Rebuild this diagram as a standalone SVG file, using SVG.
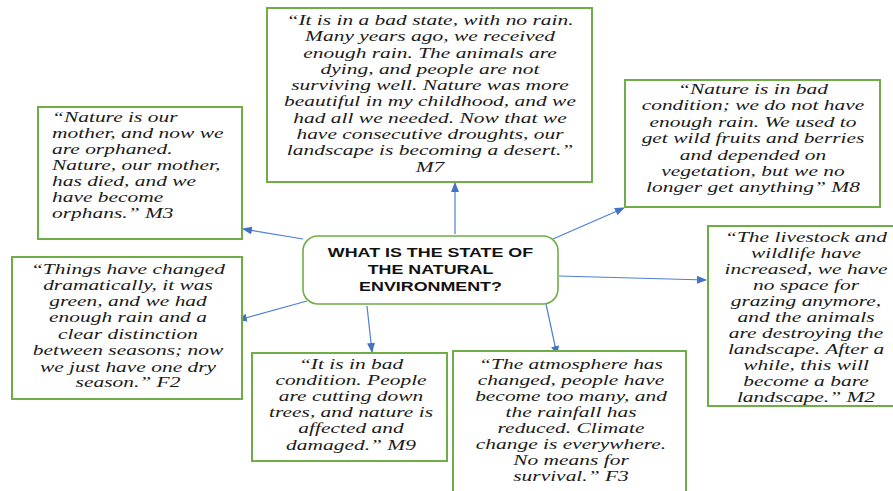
<svg xmlns="http://www.w3.org/2000/svg" width="893" height="491" viewBox="0 0 893 491">
<style>
.box{fill:#fff;stroke:#70AD47;stroke-width:2}
.hub{fill:#fff;stroke:#70AD47;stroke-width:1.6}
.q{font-family:"Liberation Serif","Times New Roman",serif;font-style:italic;font-size:15px;fill:#1a1a1a}
.c{text-anchor:middle}
.h{font-family:"Liberation Sans",Arial,sans-serif;font-weight:bold;font-size:12.5px;fill:#111;text-anchor:middle}
.ln{stroke:#4F7FD3;stroke-width:1.2;fill:none;marker-end:url(#ah)}
</style>
<defs>
<marker id="ah" markerUnits="userSpaceOnUse" markerWidth="10" markerHeight="8" refX="9" refY="4" orient="auto">
<path d="M0,0 L10,4 L0,8 Z" fill="#4472C4"/>
</marker>
</defs>
<rect width="893" height="491" fill="#fff"/>
<g id="connectors">
<line class="ln" x1="455" y1="234" x2="455" y2="183"/>
<line class="ln" x1="303" y1="239" x2="243" y2="229"/>
<line class="ln" x1="307" y1="301" x2="238" y2="320"/>
<line class="ln" x1="367" y1="306" x2="372" y2="352"/>
<line class="ln" x1="546" y1="304" x2="557" y2="355"/>
<line class="ln" x1="559" y1="276" x2="706" y2="280"/>
<line class="ln" x1="553" y1="239" x2="624" y2="208"/>
</g>
<g id="hub">
<rect class="hub" x="303" y="236" width="255" height="68" rx="15"/>
<text class="h" transform="translate(430.5 0) scale(1.43 1)"><tspan x="0" y="257.5">WHAT IS THE STATE OF</tspan><tspan x="0" y="274.5">THE NATURAL</tspan><tspan x="0" y="291.5">ENVIRONMENT?</tspan></text>
</g>
<g id="m7">
<rect class="box" x="267" y="8" width="325" height="174"/>
<text class="q c" transform="translate(430 0) scale(1.43 1)"><tspan x="0" y="25">“It is in a bad state, with no rain.</tspan><tspan x="0" y="41.3">Many years ago, we received</tspan><tspan x="0" y="57.6">enough rain. The animals are</tspan><tspan x="0" y="73.9">dying, and people are not</tspan><tspan x="0" y="90.2">surviving well. Nature was more</tspan><tspan x="0" y="106.5">beautiful in my childhood, and we</tspan><tspan x="0" y="122.8">had all we needed. Now that we</tspan><tspan x="0" y="139.1">have consecutive droughts, our</tspan><tspan x="0" y="155.4">landscape is becoming a desert.”</tspan><tspan x="0" y="171.7">M7</tspan></text>
</g>
<g id="m3">
<rect class="box" x="38" y="107" width="204" height="132"/>
<text class="q" transform="translate(52 0) scale(1.43 1)"><tspan x="0" y="122">“Nature is our</tspan><tspan x="0" y="138">mother, and now we</tspan><tspan x="0" y="154.5">are orphaned.</tspan><tspan x="0" y="170.5">Nature, our mother,</tspan><tspan x="0" y="186.5">has died, and we</tspan><tspan x="0" y="202">have become</tspan><tspan x="0" y="218">orphans.” M3</tspan></text>
</g>
<g id="m8">
<rect class="box" x="625" y="80" width="255" height="127"/>
<text class="q c" transform="translate(753 0) scale(1.43 1)"><tspan x="0" y="94">“Nature is in bad</tspan><tspan x="0" y="110.5">condition; we do not have</tspan><tspan x="0" y="127">enough rain. We used to</tspan><tspan x="0" y="143">get wild fruits and berries</tspan><tspan x="0" y="160">and depended on</tspan><tspan x="0" y="176.5">vegetation, but we no</tspan><tspan x="0" y="192">longer get anything” M8</tspan></text>
</g>
<g id="f2">
<rect class="box" x="12" y="257" width="230" height="142"/>
<text class="q c" transform="translate(128 0) scale(1.43 1)"><tspan x="0" y="274">“Things have changed</tspan><tspan x="0" y="290">dramatically, it was</tspan><tspan x="0" y="306.5">green, and we had</tspan><tspan x="0" y="322.5">enough rain and a</tspan><tspan x="0" y="339">clear distinction</tspan><tspan x="0" y="355.5">between seasons; now</tspan><tspan x="0" y="372">we just have one dry</tspan><tspan x="0" y="387.5">season.” F2</tspan></text>
</g>
<g id="m2">
<rect class="box" x="708" y="226" width="200" height="180"/>
<text class="q c" transform="translate(806 0) scale(1.43 1)"><tspan x="0" y="242">“The livestock and</tspan><tspan x="0" y="258">wildlife have</tspan><tspan x="0" y="274">increased, we have</tspan><tspan x="0" y="290">no space for</tspan><tspan x="0" y="306">grazing anymore,</tspan><tspan x="0" y="322">and the animals</tspan><tspan x="0" y="338">are destroying the</tspan><tspan x="0" y="354">landscape. After a</tspan><tspan x="0" y="370">while, this will</tspan><tspan x="0" y="386">become a bare</tspan><tspan x="0" y="402">landscape.” M2</tspan></text>
</g>
<g id="m9">
<rect class="box" x="252" y="353" width="195" height="108"/>
<text class="q c" transform="translate(351 0) scale(1.43 1)"><tspan x="0" y="369">“It is in bad</tspan><tspan x="0" y="385.5">condition. People</tspan><tspan x="0" y="401">are cutting down</tspan><tspan x="0" y="417">trees, and nature is</tspan><tspan x="0" y="433">affected and</tspan><tspan x="0" y="450">damaged.” M9</tspan></text>
</g>
<g id="f3">
<rect class="box" x="453" y="351" width="233" height="150"/>
<text class="q c" transform="translate(571 0) scale(1.43 1)"><tspan x="0" y="369">“The atmosphere has</tspan><tspan x="0" y="385">changed, people have</tspan><tspan x="0" y="401">become too many, and</tspan><tspan x="0" y="417">the rainfall has</tspan><tspan x="0" y="433">reduced. Climate</tspan><tspan x="0" y="449">change is everywhere.</tspan><tspan x="0" y="465">No means for</tspan><tspan x="0" y="481">survival.” F3</tspan></text>
</g>
</svg>
